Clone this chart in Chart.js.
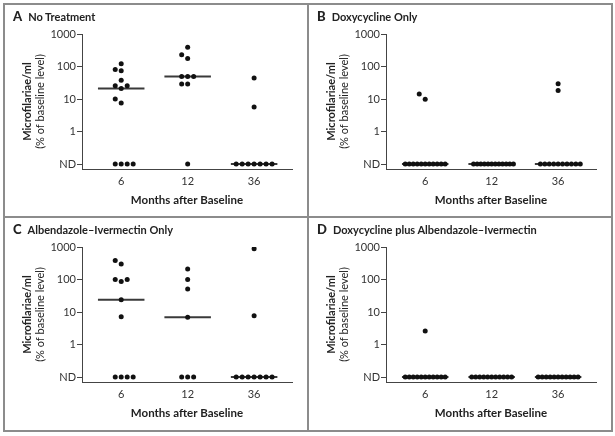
<!DOCTYPE html>
<html lang="en">
<head>
<meta charset="UTF-8">
<title>Microfilariae/ml after baseline, four treatment groups</title>
<script src="https://cdn.jsdelivr.net/npm/chart.js"></script>
<style>
  body { margin: 0; background: #fff; font-family: Lato, 'Liberation Sans', Arial, sans-serif; }
  .frame { position: absolute; left: 3px; top: 3px; width: 610px; height: 429px; box-sizing: border-box; border: 2px solid #8c8c8c; }
  .vline { position: absolute; left: 307px; top: 3px; width: 2px; height: 429px; background: #8c8c8c; }
  .hline { position: absolute; left: 3px; top: 216px; width: 610px; height: 2px; background: #8c8c8c; }
  .panel { position: absolute; width: 302px; height: 211px; }
  .panel canvas { position: absolute; left: 0; top: 0; }
  .ptitle { position: absolute; left: 8px; top: 4px; font-size: 11px; line-height: 15px; font-weight: bold; color: #222; white-space: nowrap; }
  .ptitle b { font-size: 13px; margin-right: 6px; }
</style>
</head>
<body>
  <div class="frame"></div>
  <div class="vline"></div>
  <div class="hline"></div>

  <div class="panel" style="left:5px; top:5px;">
    <canvas id="panelA" width="302" height="211"></canvas>
    <div class="ptitle"><b>A</b>No Treatment</div>
  </div>
  <div class="panel" style="left:309px; top:5px;">
    <canvas id="panelB" width="302" height="211"></canvas>
    <div class="ptitle"><b>B</b>Doxycycline Only</div>
  </div>
  <div class="panel" style="left:5px; top:218px;">
    <canvas id="panelC" width="302" height="211"></canvas>
    <div class="ptitle"><b>C</b>Albendazole–Ivermectin Only</div>
  </div>
  <div class="panel" style="left:309px; top:218px;">
    <canvas id="panelD" width="302" height="211"></canvas>
    <div class="ptitle"><b>D</b>Doxycycline plus Albendazole–Ivermectin</div>
  </div>

<script>
  // ----- data (% of baseline level, 'ND' = not detected) -----
  var ND = 'ND';
  var months = ['6', '12', '36'];
  var yTickValues = [0.1, 1, 10, 100, 1000];
  var yTickLabels = ['ND', '1', '10', '100', '1000'];
  var yTitleLines = ['Microfilariae/ml', '(% of baseline level)'];
  var xTitle = 'Months after Baseline';

  // A  No Treatment
  var noTreat6  = [121, 81, 74, 38, 25.6, 25.6, 21, 10, 7.5, ND, ND, ND, ND];
  var noTreat12 = [394, 229, 176, 49, 49, 49, 29, 29, ND];
  var noTreat36 = [44, 5.7, ND, ND, ND, ND, ND, ND, ND];

  // B  Doxycycline Only
  var doxy6  = [14.3, 9.8, ND, ND, ND, ND, ND, ND, ND, ND, ND, ND, ND];
  var doxy12 = [ND, ND, ND, ND, ND, ND, ND, ND, ND, ND, ND, ND];
  var doxy36 = [29.5, 18.4, ND, ND, ND, ND, ND, ND, ND, ND, ND, ND];

  // C  Albendazole-Ivermectin Only
  var albIver6  = [387, 300, 100, 100, 87, 24, 7.1, ND, ND, ND, ND];
  var albIver12 = [210, 100, 51, 6.9, ND, ND, ND];
  var albIver36 = [887, 7.7, ND, ND, ND, ND, ND, ND, ND];

  // D  Doxycycline plus Albendazole-Ivermectin
  var doxyAlb6  = [2.6, ND, ND, ND, ND, ND, ND, ND, ND, ND, ND, ND];
  var doxyAlb12 = [ND, ND, ND, ND, ND, ND, ND, ND, ND, ND, ND];
  var doxyAlb36 = [ND, ND, ND, ND, ND, ND, ND, ND, ND, ND, ND];

  // ----- drawing helpers -----
  var FONT = "Lato, 'Liberation Sans', Arial, sans-serif";
  Chart.defaults.font.family = FONT;

  var ND_LEVEL = 0.1;     // ND row sits one decade below 1
  var STEP = 0.09;        // horizontal distance between touching dots (x units)
  var ND_SPREAD = 0.6;    // widest an ND row may get
  var HALF_MEDIAN = 0.35; // half length of the median bar
  var DOT_GAP = 0.17;     // dot height in log10 units

  // column sequence 0, +1, -1, +2, -2 ... (sign flips it to 0, -1, +1 ...)
  function col(k, sign) {
    return k === 0 ? 0 : sign * (k % 2 ? (k + 1) / 2 : -k / 2);
  }

  // spread dots of one group sideways so they do not sit on each other
  function swarm(values, g) {
    var pts = [];
    var nd = values.filter(v => v === ND).length;
    var ndStep = nd > 1 ? Math.min(STEP, ND_SPREAD / (nd - 1)) : STEP;
    for (var i = 0; i < nd; i++) pts.push({x: g + col(i, 1) * ndStep, y: ND_LEVEL});

    var placed = [];
    values.filter(v => v !== ND).sort((a, b) => a - b).forEach(v => {
      var ly = Math.log10(v);
      var k = 0;
      while (placed.some(p => p.c === col(k, -1) && Math.abs(p.ly - ly) < DOT_GAP)) k++;
      placed.push({c: col(k, -1), ly: ly});
      pts.push({x: g + col(k, -1) * STEP, y: v});
    });
    return pts;
  }

  function median(values) {
    var s = values.map(v => v === ND ? ND_LEVEL : v).sort((a, b) => a - b);
    var m = Math.floor(s.length / 2);
    return s.length % 2 ? s[m] : Math.sqrt(s[m - 1] * s[m]);
  }

  // two-line y title, first line bold
  var yTitlePlugin = {
    id: 'yTitle',
    afterDraw(chart) {
      var ctx = chart.ctx, area = chart.chartArea;
      ctx.save();
      ctx.translate(22, (area.top + area.bottom) / 2);
      ctx.rotate(-Math.PI / 2);
      ctx.textAlign = 'center';
      ctx.textBaseline = 'middle';
      ctx.fillStyle = '#222';
      ctx.font = 'bold 11px ' + FONT;
      ctx.fillText(yTitleLines[0], 0, 0);
      ctx.font = '11px ' + FONT;
      ctx.fillText(yTitleLines[1], 0, 13);
      ctx.restore();
    }
  };

  function makePanel(id, groups) {
    var dots = [];
    var datasets = [];
    groups.forEach((values, g) => {
      dots = dots.concat(swarm(values, g));
      var med = median(values);
      datasets.push({
        type: 'line',
        data: [{x: g - HALF_MEDIAN, y: med}, {x: g + HALF_MEDIAN, y: med}],
        borderColor: '#3a3a3a',
        borderWidth: 2,
        pointRadius: 0,
        order: 1
      });
    });
    datasets.push({
      type: 'scatter',
      data: dots,
      backgroundColor: '#111',
      borderWidth: 0,
      pointRadius: 2.5,
      order: 0
    });

    return new Chart(document.getElementById(id), {
      type: 'scatter',
      data: { datasets: datasets },
      plugins: [yTitlePlugin],
      options: {
        responsive: false,
        animation: false,
        layout: { padding: { top: 29, right: 15, left: 0, bottom: 0 } },
        plugins: { legend: { display: false }, tooltip: { enabled: false } },
        scales: {
          x: {
            type: 'linear',
            min: -0.59,
            max: 2.57,
            afterBuildTicks: s => { s.ticks = months.map((m, i) => ({value: i})); },
            afterFit: s => { s.height = 47; },
            ticks: {
              callback: (v, i) => months[i],
              autoSkip: false,
              maxRotation: 0,
              padding: 6,
              color: '#333',
              font: { size: 11 }
            },
            grid: { display: true, drawOnChartArea: false, drawTicks: false },
            border: { color: '#444', width: 1 },
            title: {
              display: true,
              text: xTitle,
              color: '#222',
              font: { size: 11.5, weight: 'bold' },
              padding: { top: 0, bottom: 9 }
            }
          },
          y: {
            type: 'logarithmic',
            min: 0.0703,
            max: 1000,
            afterBuildTicks: s => { s.ticks = yTickValues.map(v => ({value: v})); },
            afterFit: s => { s.width = 77; },
            ticks: {
              callback: (v, i) => yTickLabels[i],
              padding: 1,
              color: '#333',
              font: { size: 11 }
            },
            grid: { drawOnChartArea: false, drawTicks: true, tickLength: 5, color: '#444' },
            border: { color: '#444', width: 1 }
          }
        }
      }
    });
  }

  makePanel('panelA', [noTreat6, noTreat12, noTreat36]);
  makePanel('panelB', [doxy6, doxy12, doxy36]);
  makePanel('panelC', [albIver6, albIver12, albIver36]);
  makePanel('panelD', [doxyAlb6, doxyAlb12, doxyAlb36]);
</script>
</body>
</html>
